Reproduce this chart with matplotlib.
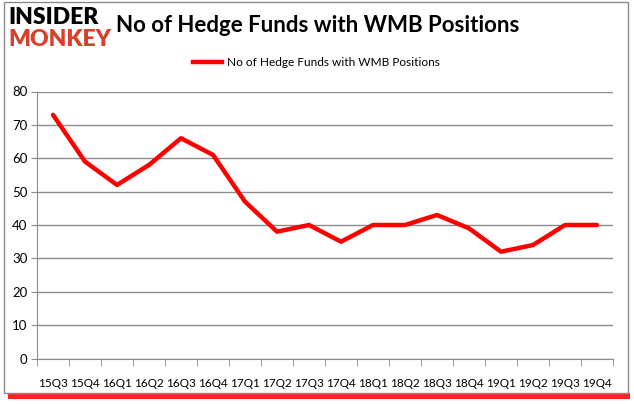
import matplotlib.pyplot as plt
from matplotlib.patches import Rectangle

quarters = ["15Q3", "15Q4", "16Q1", "16Q2", "16Q3", "16Q4", "17Q1", "17Q2", "17Q3",
            "17Q4", "18Q1", "18Q2", "18Q3", "18Q4", "19Q1", "19Q2", "19Q3", "19Q4"]
funds = [73, 59, 52, 58, 66, 61, 47, 38, 40, 35, 40, 40, 43, 39, 32, 34, 40, 40]
series_name = "No of Hedge Funds with WMB Positions"

plt.rcParams["font.family"] = ["Lato", "DejaVu Sans"]

fig = plt.figure(figsize=(6.34, 4.04), dpi=100)
W, H = 634, 404

# frame with red shadow at the bottom
fig.patches.append(Rectangle((8 / W, 5 / H), 622 / W, 6 / H, transform=fig.transFigure,
                             facecolor="#ff2020", edgecolor="none", zorder=0))
fig.patches.append(Rectangle((4 / W, 11 / H), 624 / W, 391 / H, transform=fig.transFigure,
                             facecolor="white", edgecolor="#8a8a8a", lw=1, zorder=1))

ax = fig.add_axes([37 / W, (404 - 358.5) / H, 576 / W, (358.5 - 91.5) / H])
ax.set_zorder(2)
x = list(range(len(quarters)))
ax.plot(x, funds, color="#ff0000", lw=3.2, solid_joinstyle="round", solid_capstyle="round")

ax.set_xlim(-0.5, len(quarters) - 0.5)
ax.set_ylim(0, 80)
ax.set_yticks(range(0, 81, 10))
ax.yaxis.grid(True, color="#8c8c8c", lw=1)
ax.set_axisbelow(True)
ax.set_xticks(x)
ax.set_xticklabels(quarters, fontsize=8.5)
ax.set_xticks([i - 0.5 for i in range(len(quarters) + 1)], minor=True)
ax.tick_params(axis="x", which="major", length=0, pad=14)
ax.tick_params(axis="x", which="minor", length=5, color="#8c8c8c", direction="out")
ax.tick_params(axis="y", length=4, color="#8c8c8c", labelsize=9.5, pad=3)
for side in ["top", "right"]:
    ax.spines[side].set_visible(False)
for side in ["left", "bottom"]:
    ax.spines[side].set_color("#8c8c8c")
ax.patch.set_alpha(0)

# title and legend
fig.text(318 / W, 1 - 25 / H, series_name, ha="center", va="center",
         fontsize=16, fontweight="bold")
fig.add_artist(plt.Line2D([193 / W, 222 / W], [1 - 62 / H, 1 - 62 / H], color="#ff0000", lw=3.2))
fig.text(227 / W, 1 - 62 / H, series_name, ha="left", va="center", fontsize=8.6)

# logo
fig.text(8 / W, 1 - 17 / H, "INSIDER", ha="left", va="center", fontsize=16.5,
         fontweight="heavy", color="black", family=["Liberation Sans Narrow", "Lato"])
fig.text(8 / W, 1 - 40 / H, "MONKEY", ha="left", va="center", fontsize=16.5,
         fontweight="heavy", color="#d9402b", family=["Liberation Sans Narrow", "Lato"])

fig.savefig("out.png", dpi=100)
